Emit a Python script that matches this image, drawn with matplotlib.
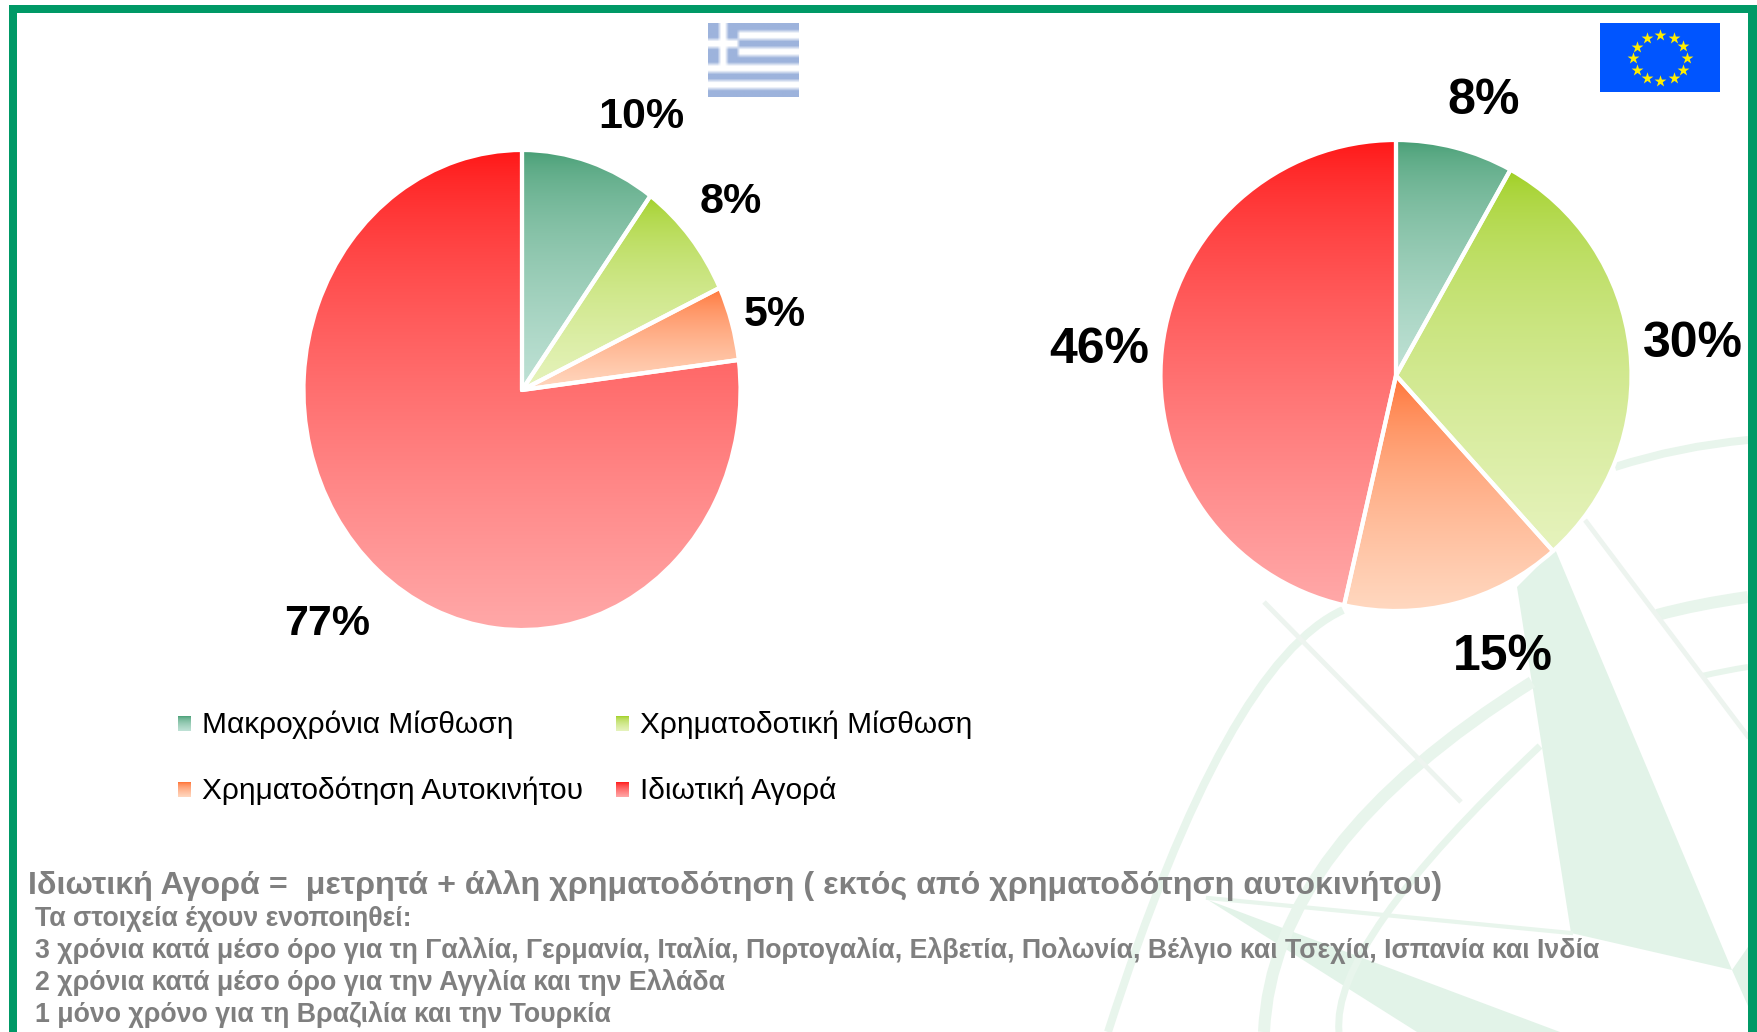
import numpy as np
import matplotlib
matplotlib.use('Agg')
import matplotlib.pyplot as plt
from matplotlib.patches import Polygon, PathPatch, Rectangle
from matplotlib.path import Path

W, H = 1757, 1032

labels = ['Μακροχρόνια Μίσθωση', 'Χρηματοδοτική Μίσθωση', 'Χρηματοδότηση Αυτοκινήτου', 'Ιδιωτική Αγορά']
greece = [10, 8, 5, 77]
europe = [8, 30, 15, 46]
top_colors = ['#3f9a6e', '#99cc14', '#ff6a2a', '#ff1414']
bottom_colors = ['#c0e2d6', '#e6f3bd', '#ffd8c0', '#ffa8a8']
fade = [0.55, 0.5, 0.6, 0.7]

note_title = 'Ιδιωτική Αγορά =  μετρητά + άλλη χρηματοδότηση ( εκτός από χρηματοδότηση αυτοκινήτου)'
note_lines = ['Τα στοιχεία έχουν ενοποιηθεί:',
              '3 χρόνια κατά μέσο όρο για τη Γαλλία, Γερμανία, Ιταλία, Πορτογαλία, Ελβετία, Πολωνία, Βέλγιο και Τσεχία, Ισπανία και Ινδία',
              '2 χρόνια κατά μέσο όρο για την Αγγλία και την Ελλάδα',
              '1 μόνο χρόνο για τη Βραζιλία και την Τουρκία']

plt.rcParams['font.family'] = ['Liberation Sans', 'DejaVu Sans']
fig = plt.figure(figsize=(W / 100, H / 100), dpi=100, facecolor='white')

# background layer in pixel coordinates
bg = fig.add_axes([0, 0, 1, 1], zorder=0)
bg.set_xlim(0, W)
bg.set_ylim(H, 0)
bg.axis('off')

WM = '#e2f3e8'
WM_ARC = '#e8f5ec'
WM_THIN = '#edf4ef'


def curve(p0, mid, p2, width, color=WM_ARC):
    ctrl = 2 * np.array(mid) - (np.array(p0) + np.array(p2)) / 2
    path = Path([p0, ctrl, p2], [Path.MOVETO, Path.CURVE3, Path.CURVE3])
    bg.add_patch(PathPatch(path, fc='none', ec=color, lw=width * 0.72, capstyle='butt'))


# compass watermark
bg.add_patch(Polygon([(1555, 549), (1517, 587), (1571, 933), (1732, 970)], fc=WM, ec='none'))
bg.add_patch(Polygon([(1732, 970), (1748, 947), (1748, 1006)], fc=WM, ec='none'))
bg.add_patch(Polygon([(1208, 900), (1560, 1032), (1417, 1032)], fc=WM, ec='none'))
bg.plot([1208, 1571], [898, 933], color=WM_ARC, lw=3)
curve((1343, 610), (1226, 742), (1108, 1032), 8)
curve((1532, 682), (1335, 851), (1264, 1032), 12)
curve((1540, 746), (1385, 916), (1339, 1032), 7)
curve((1615, 467), (1680, 450), (1748, 440), 8)
curve((1657, 615), (1700, 605), (1748, 597), 12)
curve((1702, 676), (1725, 671), (1748, 667), 6)
bg.plot([1264, 1461], [602, 802], color=WM_THIN, lw=3.5, solid_capstyle='butt')
bg.plot([1585, 1749], [520, 738], color=WM_THIN, lw=3.5, solid_capstyle='butt')

# frame, no line along the bottom
GREEN = '#009966'
bg.add_patch(Rectangle((9, 5), 8, H, fc=GREEN, ec='none', zorder=5))
bg.add_patch(Rectangle((9, 5), W, 8, fc=GREEN, ec='none', zorder=5))
bg.add_patch(Rectangle((1748, 5), 9, H, fc=GREEN, ec='none', zorder=5))

# Greek flag, upscaled from a small array so the edges come out soft
FLAG = np.array(matplotlib.colors.to_rgb('#9db3dc'))
WHITE = np.ones(3)
flag = np.zeros((18, 24, 3))
for r in range(18):
    flag[r, :] = FLAG if (r // 2) % 2 == 0 else WHITE
flag[:10, :8] = FLAG
flag[:10, 3:5] = WHITE
flag[4:6, :8] = WHITE
bg.imshow(flag, extent=(708, 799, 97, 23), origin='upper', aspect='auto', interpolation='bilinear')

# EU flag
bg.add_patch(Rectangle((1600, 23), 120, 69, fc='#0055ff', ec='none'))
star_angles = np.deg2rad(np.arange(0, 360, 30))
bg.scatter(1660 + 27 * np.cos(star_angles), 58 + 23 * np.sin(star_angles), marker='*', s=80,
           color='#ffee00', linewidths=0)
bg.set_xlim(0, W)
bg.set_ylim(H, 0)


def gradient(i):
    c0 = np.array(matplotlib.colors.to_rgb(top_colors[i]))
    c1 = np.array(matplotlib.colors.to_rgb(bottom_colors[i]))
    t = np.linspace(0, 1, 256)[:, None] ** fade[i]
    return (c0 + (c1 - c0) * t)[:, None, :]


def draw_pie(values, cx, cy, rx, ry):
    pad = 1.03
    ax = fig.add_axes([(cx - rx * pad) / W, 1 - (cy + ry * pad) / H, 2 * rx * pad / W, 2 * ry * pad / H], zorder=1)
    wedges, _ = ax.pie(values, startangle=90, counterclock=False,
                       wedgeprops=dict(edgecolor='white', linewidth=3, facecolor='none'))
    for i, w in enumerate(wedges):
        box = w.get_path().get_extents()
        im = ax.imshow(gradient(i), extent=(box.x0, box.x1, box.y0, box.y1), origin='upper',
                       aspect='auto', zorder=0.5, interpolation='bilinear')
        im.set_clip_path(w)
        w.set_zorder(2)
        w.set_joinstyle('round')
    ax.set_aspect('auto')
    ax.set_xlim(-pad, pad)
    ax.set_ylim(-pad, pad)
    ax.patch.set_alpha(0)
    ax.axis('off')


draw_pie(greece, 522, 390, 218.5, 240)
draw_pie(europe, 1396, 375.5, 235.5, 235.5)

# top layer for text
top = fig.add_axes([0, 0, 1, 1], zorder=2)
top.set_xlim(0, W)
top.set_ylim(H, 0)
top.axis('off')
top.patch.set_alpha(0)

gr_pos = [(641, 117), (731, 202), (775, 315), (327, 624)]
eu_pos = [(1484, 101), (1693, 344), (1503, 657), (1099, 350)]
for v, p in zip(greece, gr_pos):
    top.text(p[0], p[1], f'{v}%', fontsize=31, fontweight='bold', ha='center', va='center')
for v, p in zip(europe, eu_pos):
    top.text(p[0], p[1], f'{v}%', fontsize=36, fontweight='bold', ha='center', va='center')

# legend
leg_x = [178, 616]
leg_y = [725, 791]
for i, name in enumerate(labels):
    x = leg_x[i % 2]
    y = leg_y[i // 2]
    top.imshow(gradient(i), extent=(x, x + 13, y + 6, y - 9), origin='upper', aspect='auto', interpolation='bilinear')
    top.text(x + 24, y, name, fontsize=21.5, color='black', ha='left', va='center')
top.set_xlim(0, W)
top.set_ylim(H, 0)

# notes under the charts
GREY = '#7f7f7f'
top.text(28, 886, note_title, fontsize=23.25, fontweight='bold', color=GREY, ha='left', va='center')
for txt, y in zip(note_lines, [919, 950, 983, 1015]):
    top.text(35, y, txt, fontsize=19.27, fontweight='bold', color=GREY, ha='left', va='center')

fig.savefig('out.png', dpi=100)
